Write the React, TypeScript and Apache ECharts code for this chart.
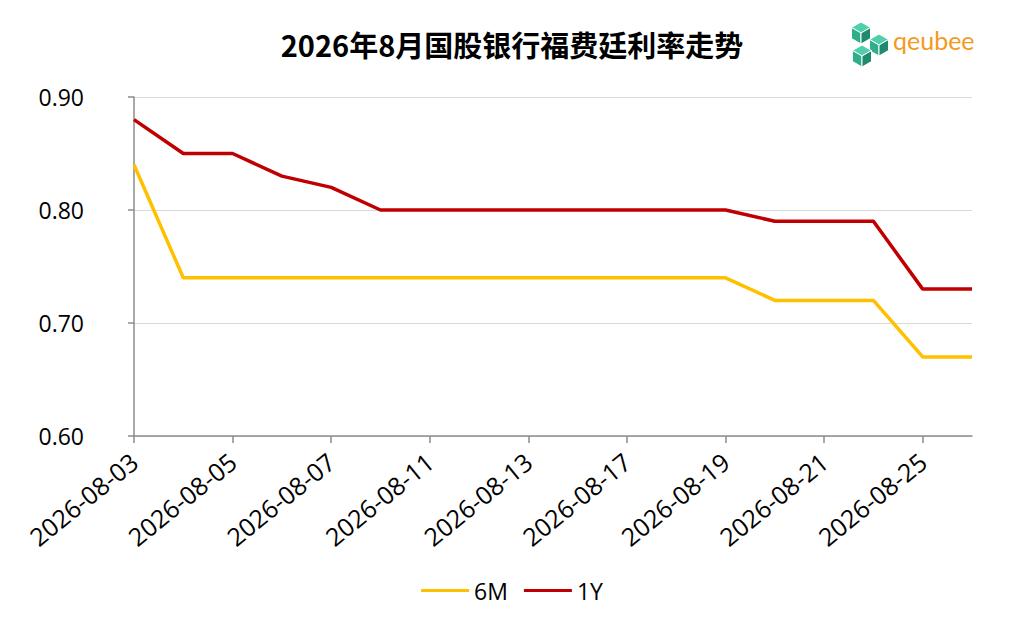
import React, { useEffect, useRef } from "react";
import * as echarts from "echarts";

const categories = [
  "2026-08-03", "2026-08-04", "2026-08-05", "2026-08-06", "2026-08-07",
  "2026-08-10", "2026-08-11", "2026-08-12", "2026-08-13", "2026-08-14",
  "2026-08-17", "2026-08-18", "2026-08-19", "2026-08-20", "2026-08-21",
  "2026-08-24", "2026-08-25", "2026-08-26",
];
const series6M = [0.84, 0.74, 0.74, 0.74, 0.74, 0.74, 0.74, 0.74, 0.74, 0.74, 0.74, 0.74, 0.74, 0.72, 0.72, 0.72, 0.67, 0.67];
const series1Y = [0.88, 0.85, 0.85, 0.83, 0.82, 0.80, 0.80, 0.80, 0.80, 0.80, 0.80, 0.80, 0.80, 0.79, 0.79, 0.79, 0.73, 0.73];
const titleText = "2026年8月国股银行福费廷利率走势";

function cube(cx: number, cy: number, r: number) {
  const h = 0.866 * r;
  const top: number[] = [cx, cy - r];
  const ur: number[] = [cx + h, cy - r / 2];
  const lr: number[] = [cx + h, cy + r / 2];
  const bot: number[] = [cx, cy + r];
  const ll: number[] = [cx - h, cy + r / 2];
  const ul: number[] = [cx - h, cy - r / 2];
  const c: number[] = [cx, cy];
  const st = (fill: string) => ({ fill, stroke: "#ffffff", lineWidth: 1 });
  return [
    { type: "polygon", shape: { points: [top, ur, c, ul] }, style: st("#4fd0ad") },
    { type: "polygon", shape: { points: [ul, c, bot, ll] }, style: st("#2fae8b") },
    { type: "polygon", shape: { points: [c, ur, lr, bot] }, style: st("#1f8a6d") },
  ];
}

export default function App() {
  const ref = useRef<HTMLDivElement>(null);
  useEffect(() => {
    if (!ref.current) return;
    const chart = echarts.init(ref.current, undefined, { renderer: "svg" });
    const font = "'Open Sans', 'Noto Sans CJK SC', sans-serif";
    chart.setOption({
      animation: false,
      backgroundColor: "#ffffff",
      title: {
        text: titleText,
        left: "center",
        top: 24,
        textStyle: { fontSize: 29, fontWeight: "bold", color: "#000", fontFamily: "'Noto Sans CJK SC', sans-serif" },
      },
      graphic: [
        ...cube(861, 33, 11),
        ...cube(879, 45, 11),
        ...cube(862, 56, 11),
        {
          type: "text",
          left: 893,
          top: 27,
          style: { text: "qeubee", fill: "#f39a1e", fontSize: 25, fontFamily: "Lato, 'Open Sans', sans-serif" },
        },
      ],
      legend: {
        bottom: 22,
        left: "center",
        itemWidth: 48,
        itemHeight: 3,
        itemGap: 16,
        icon: "rect",
        textStyle: { fontSize: 23, color: "#000", fontFamily: font },
        data: ["6M", "1Y"],
      },
      grid: { left: 134, right: 52, top: 97, bottom: 193, containLabel: false },
      xAxis: {
        type: "category",
        data: categories,
        boundaryGap: false,
        axisLine: { lineStyle: { color: "#8c8c8c", width: 1.5 } },
        axisTick: { show: true, interval: 1, length: 7, lineStyle: { color: "#8c8c8c", width: 1.5 } },
        axisLabel: { interval: 1, rotate: 39, fontSize: 25, color: "#000", fontFamily: font, margin: 22 },
      },
      yAxis: {
        type: "value",
        min: 0.6,
        max: 0.9,
        interval: 0.1,
        axisLine: { show: true, lineStyle: { color: "#8c8c8c", width: 1.5 } },
        axisTick: { show: true, length: 6, lineStyle: { color: "#8c8c8c", width: 1.5 } },
        axisLabel: { fontSize: 23, color: "#000", fontFamily: font, margin: 50, align: "right", formatter: (v: number) => v.toFixed(2) },
        splitLine: { lineStyle: { color: "#d9d9d9", width: 1 } },
      },
      series: [
        { name: "6M", type: "line", data: series6M, symbol: "none", lineStyle: { color: "#ffc000", width: 3.5 }, itemStyle: { color: "#ffc000" } },
        { name: "1Y", type: "line", data: series1Y, symbol: "none", lineStyle: { color: "#c00000", width: 3.5 }, itemStyle: { color: "#c00000" } },
      ],
    });
    return () => chart.dispose();
  }, []);
  return <div ref={ref} style={{ width: 1024, height: 629, margin: -8 }} />;
}
